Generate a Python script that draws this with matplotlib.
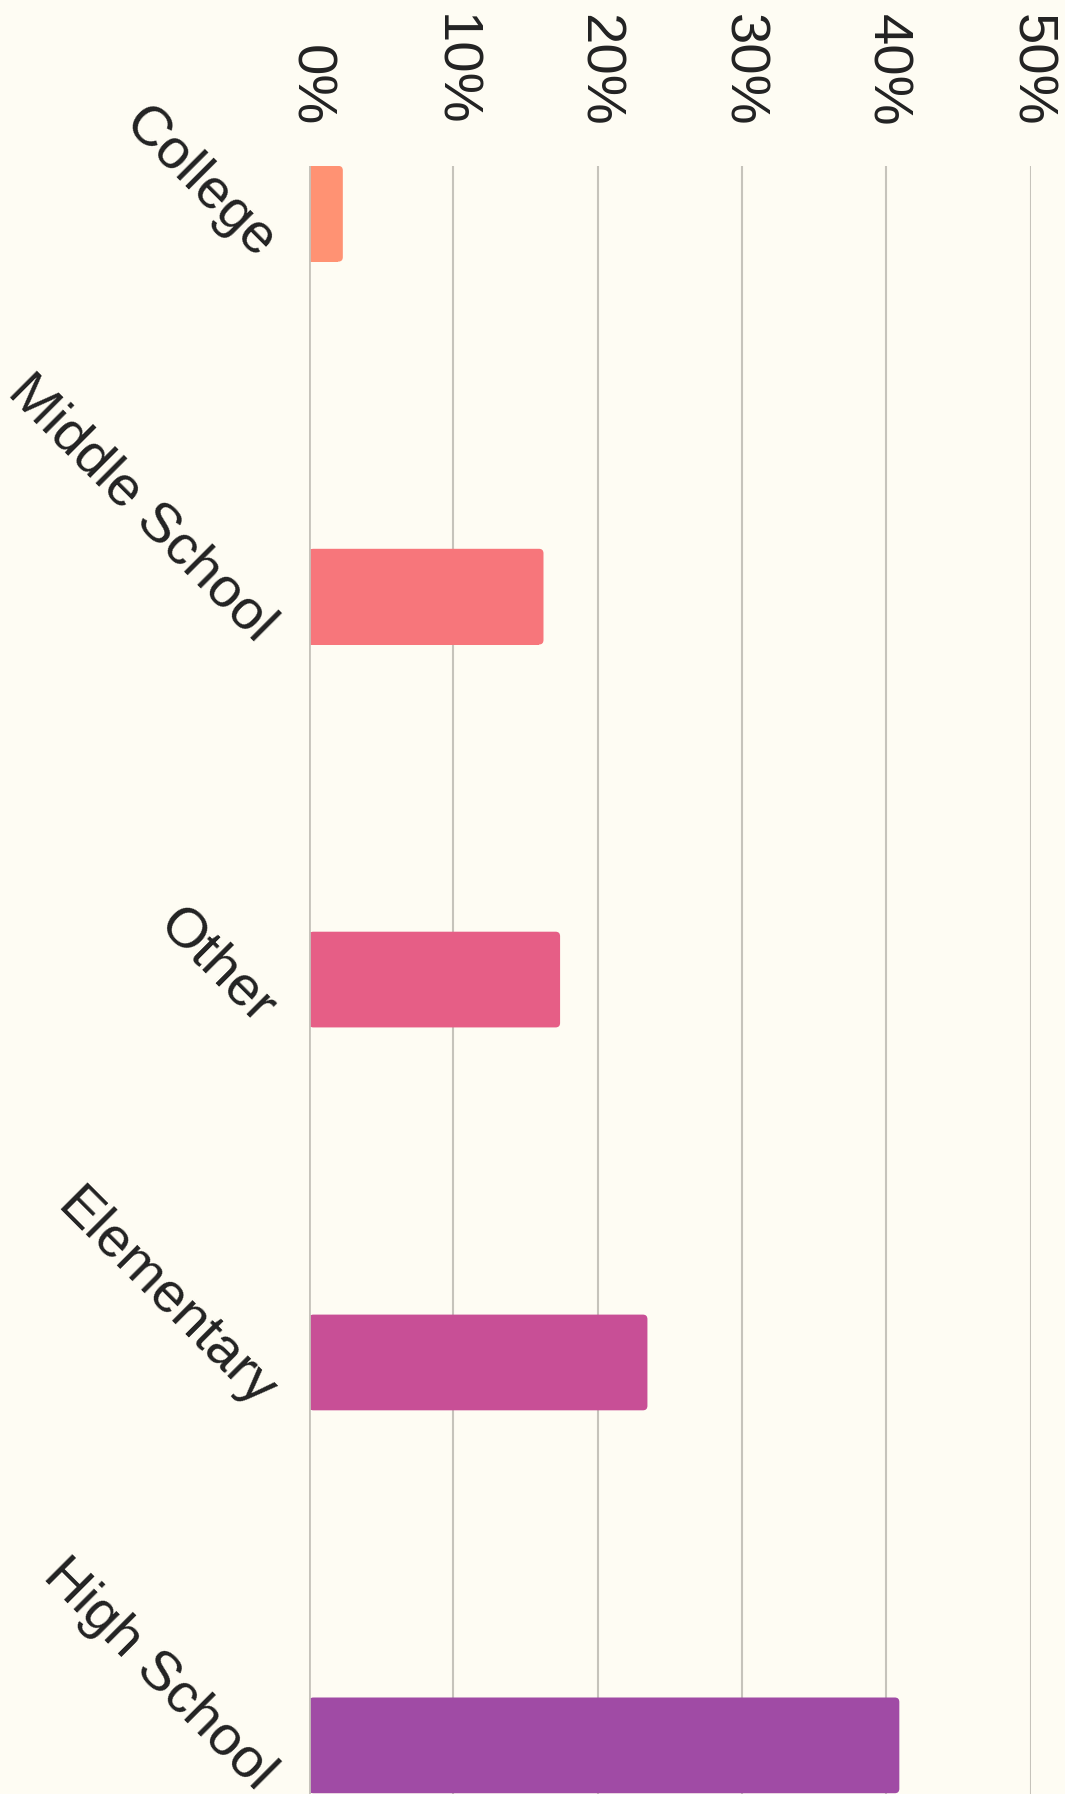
import matplotlib
matplotlib.use("Agg")
import matplotlib.pyplot as plt
from matplotlib.patches import FancyBboxPatch
from matplotlib.transforms import ScaledTranslation

categories = ["College", "Middle School", "Other", "Elementary", "High School"]
values = [2.35, 16.25, 17.4, 23.45, 40.9]
colors = ["#FF9273", "#F7767B", "#E65E86", "#C84F96", "#A04BA5"]
xticks = [0, 10, 20, 30, 40, 50]
xticklabels = ["0%", "10%", "20%", "30%", "40%", "50%"]

BG = "#FEFCF3"
GRID = "#C6C3BB"
TXT = "#222222"

plt.rcParams['font.family'] = ['Liberation Sans', 'DejaVu Sans']

W, H, DPI = 1065, 1794, 100
fig = plt.figure(figsize=(W / DPI, H / DPI), dpi=DPI, facecolor=BG)
left_px, right_px, top_px = 308.9, 1030.7, 165.9
ax = fig.add_axes([left_px / W, 0, (right_px - left_px) / W, 1 - top_px / H])
ax.set_facecolor(BG)

band = 382.9  # px per category
bar_h = 0.25
ax.set_xlim(0, 50)
ax.set_ylim((H - top_px) / band - bar_h / 2, -bar_h / 2)

for sp in ax.spines.values():
    sp.set_visible(False)

ax.set_xticks(xticks)
ax.grid(axis='x', color=GRID, linewidth=1.5, zorder=0)
ax.set_axisbelow(True)

# rounded bars
xpp = 50 / (right_px - left_px)
ypp = 1 / band
r_px = 4.5
ys = list(range(len(categories)))
rects = ax.barh(ys, [v - r_px * xpp for v in values], height=bar_h, color=colors, zorder=2, linewidth=0)
for y, v, c in zip(ys, values, colors):
    p = FancyBboxPatch((0, y - bar_h / 2), v, bar_h,
                       boxstyle=f"round,pad=0,rounding_size={r_px * xpp}",
                       mutation_aspect=ypp / xpp, facecolor=c, edgecolor='none', zorder=2)
    ax.add_patch(p)

ax.axvline(0, color=GRID, linewidth=2, zorder=3)

FS = 40.5
ax.xaxis.tick_top()
ax.set_xticklabels(xticklabels, rotation=-90, fontsize=FS, color=TXT)
ax.tick_params(axis='x', length=0, pad=28.5)

ax.set_yticks(ys)
ax.set_yticklabels(categories, fontsize=FS, color=TXT, rotation=-45,
                   ha='right', va='center', rotation_mode='anchor')
ax.tick_params(axis='y', length=0, pad=0)
off = ScaledTranslation(-43 / DPI, -37 / DPI, fig.dpi_scale_trans)
for lab in ax.get_yticklabels():
    lab.set_transform(lab.get_transform() + off)

fig.savefig("out.png", dpi=DPI, facecolor=BG)
